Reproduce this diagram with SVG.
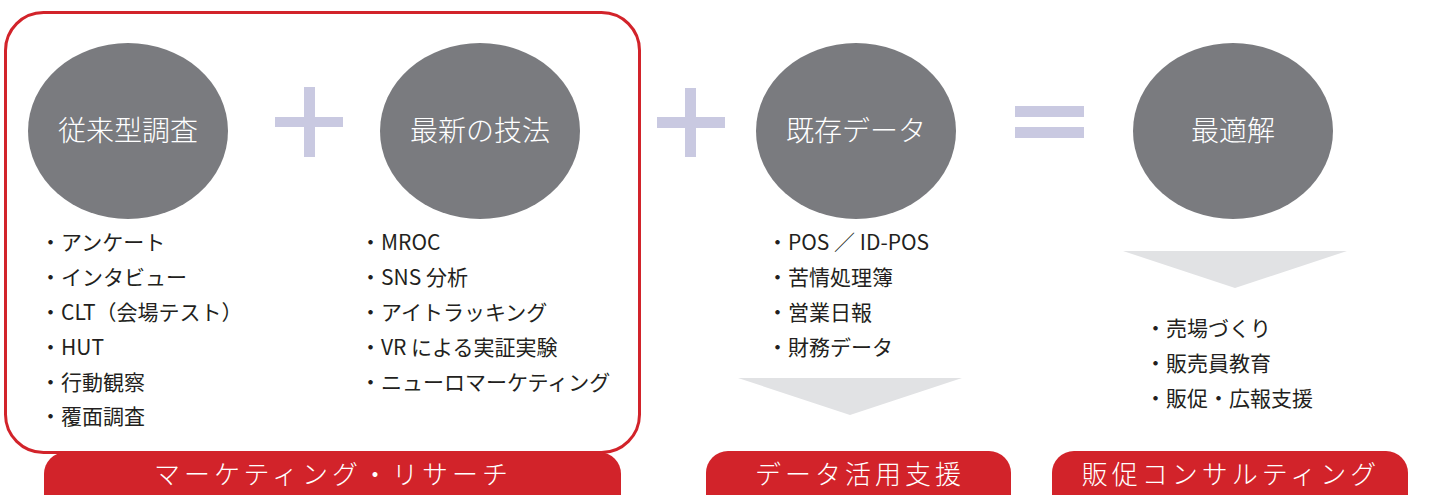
<svg xmlns="http://www.w3.org/2000/svg" width="1445" height="495" viewBox="0 0 1445 495">
<style>
.frame{fill:none;stroke:#d2232a;stroke-width:3}
.circ{fill:#7a7b7f}
.ctext{font-family:"Noto Sans CJK JP","Noto Sans",sans-serif;font-size:28px;font-weight:300;fill:#ffffff;text-anchor:middle}
.op{fill:#c9c9e1}
.list{font-family:"Noto Sans CJK JP","Noto Sans",sans-serif;font-size:21px;fill:#231f20}
.tri{fill:#e1e2e4}
.pill{fill:#d2232a}
.ptext{font-family:"Noto Sans CJK JP","Noto Sans",sans-serif;font-size:26px;font-weight:300;fill:#ffffff;text-anchor:middle;letter-spacing:4px}
</style>
<rect width="1445" height="495" fill="#ffffff"/>
<g id="research-frame">
<rect class="frame" x="5.5" y="12.5" width="634" height="440" rx="38"/>
</g>
<g id="connectors">
<g id="plus1"><rect class="op" x="304" y="87" width="11" height="70"/><rect class="op" x="275" y="117" width="68" height="10"/></g>
<g id="plus2"><rect class="op" x="685" y="88" width="11" height="69"/><rect class="op" x="657" y="117" width="68" height="11"/></g>
<g id="equals"><rect class="op" x="1015" y="106" width="69" height="11"/><rect class="op" x="1015" y="127" width="69" height="11"/></g>
<polygon class="tri" points="738,378 962,378 850,415"/>
<polygon class="tri" points="1123,251 1347,251 1235,288"/>
</g>
<g id="node-traditional">
<ellipse class="circ" cx="128" cy="131" rx="100" ry="88"/>
<text class="ctext" x="128" y="141">従来型調査</text>
<text class="list" x="40"><tspan x="40" y="250">・アンケート</tspan><tspan x="40" y="285">・インタビュー</tspan><tspan x="40" y="320">・CLT（会場テスト）</tspan><tspan x="40" y="355">・HUT</tspan><tspan x="40" y="390">・行動観察</tspan><tspan x="40" y="424">・覆面調査</tspan></text>
</g>
<g id="node-latest">
<ellipse class="circ" cx="480" cy="131" rx="100" ry="88"/>
<text class="ctext" x="480" y="141">最新の技法</text>
<text class="list" x="360"><tspan x="360" y="250">・MROC</tspan><tspan x="360" y="285">・SNS 分析</tspan><tspan x="360" y="320">・アイトラッキング</tspan><tspan x="360" y="355">・VR による実証実験</tspan><tspan x="360" y="390">・ニューロマーケティング</tspan></text>
</g>
<g id="node-existing">
<ellipse class="circ" cx="856" cy="131" rx="100" ry="88"/>
<text class="ctext" x="856" y="141">既存データ</text>
<text class="list" x="767"><tspan x="767" y="250">・POS ／ ID-POS</tspan><tspan x="767" y="285">・苦情処理簿</tspan><tspan x="767" y="320">・営業日報</tspan><tspan x="767" y="355">・財務データ</tspan></text>
</g>
<g id="node-optimal">
<ellipse class="circ" cx="1233" cy="131" rx="100" ry="88"/>
<text class="ctext" x="1233" y="141">最適解</text>
<text class="list" x="1145"><tspan x="1145" y="336">・売場づくり</tspan><tspan x="1145" y="371">・販売員教育</tspan><tspan x="1145" y="406">・販促・広報支援</tspan></text>
</g>
<g id="label-research">
<rect class="pill" x="44" y="452" width="577" height="70" rx="22"/>
<text class="ptext" x="333" y="484">マーケティング・リサーチ</text>
</g>
<g id="label-data">
<rect class="pill" x="706" y="451" width="305" height="70" rx="22"/>
<text class="ptext" x="860" y="484">データ活用支援</text>
</g>
<g id="label-consulting">
<rect class="pill" x="1052" y="451" width="356" height="70" rx="22"/>
<text class="ptext" x="1231" y="484">販促コンサルティング</text>
</g>
</svg>
